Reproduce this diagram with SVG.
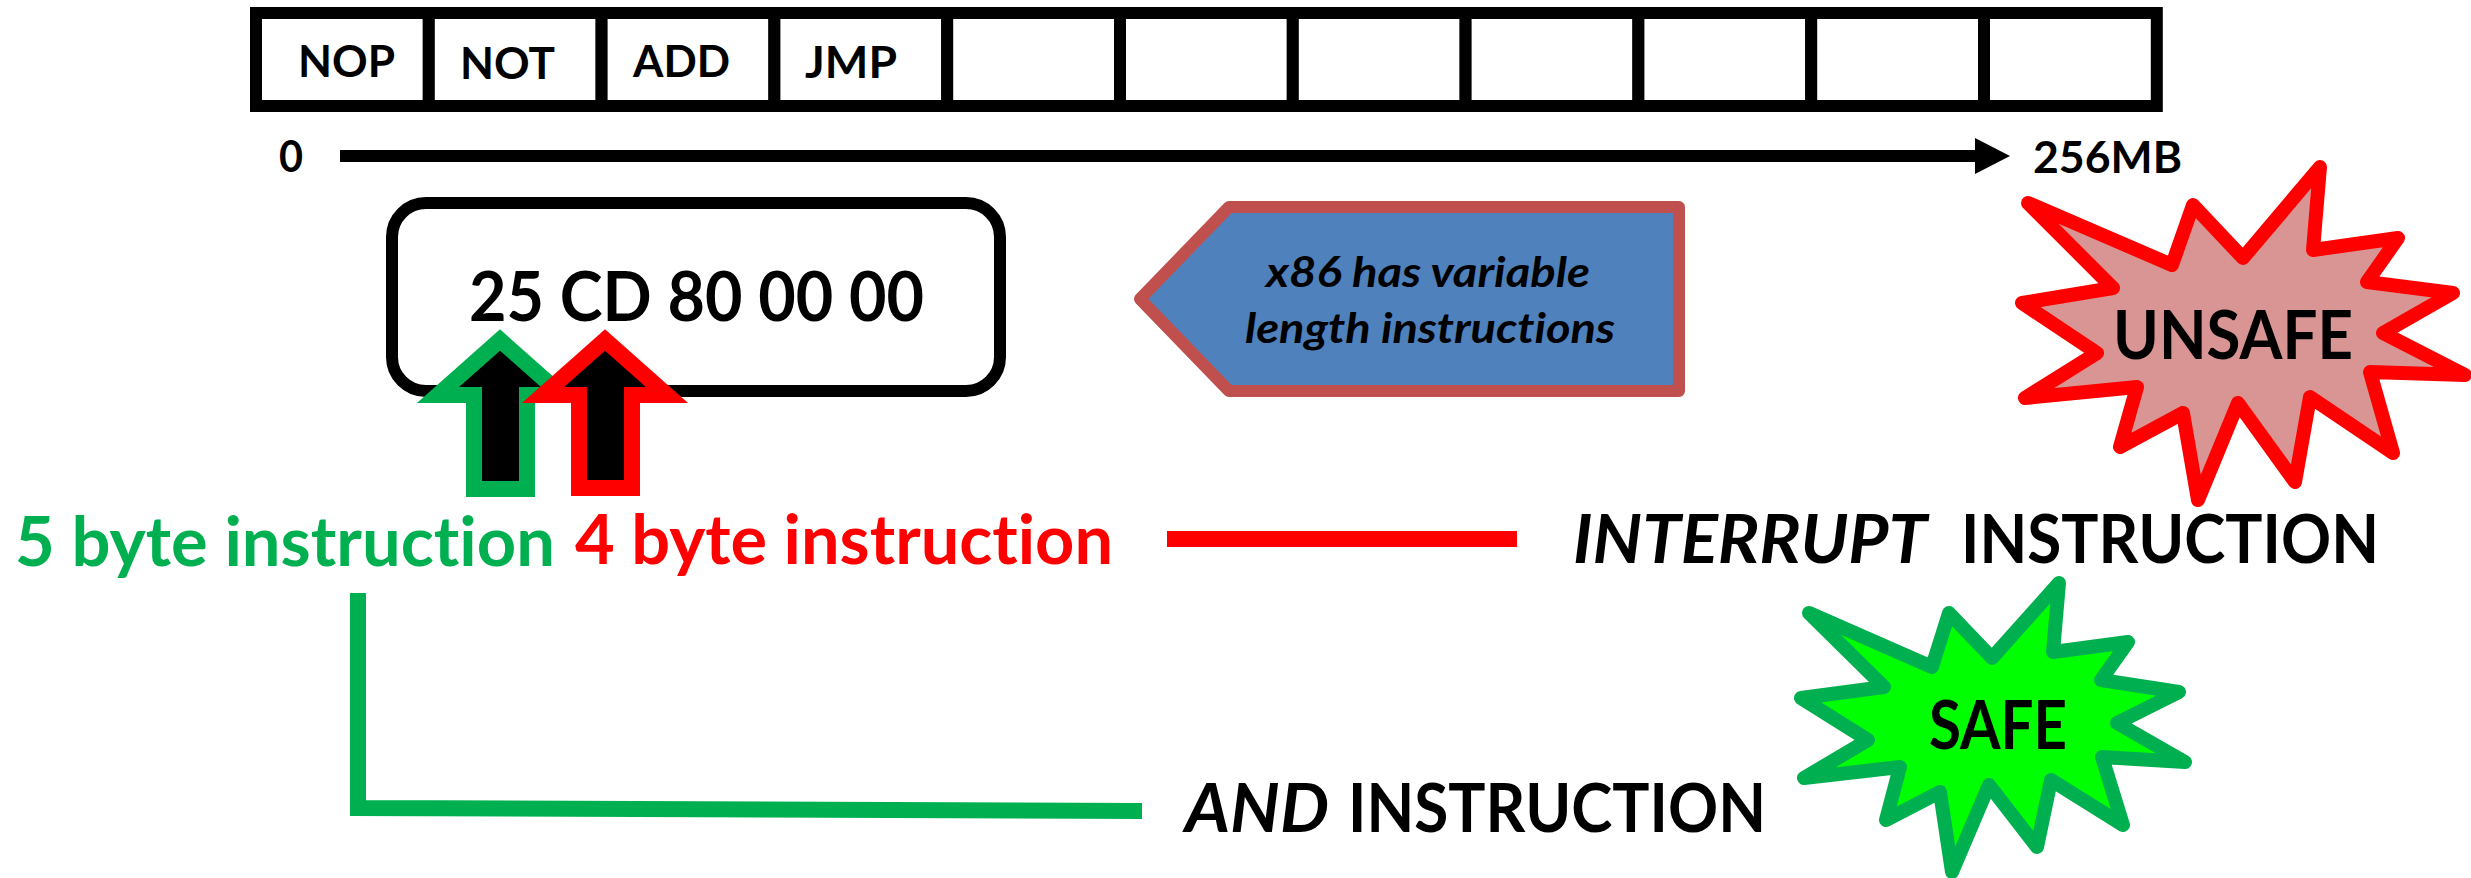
<svg xmlns="http://www.w3.org/2000/svg" width="2471" height="878" viewBox="0 0 2471 878">
<style>
text{font-family:Lato,"Open Sans","Liberation Sans",sans-serif;font-weight:700;fill:#000;font-variant-ligatures:none;font-feature-settings:"liga" 0,"clig" 0,"dlig" 0}
.cell{fill:#fff;stroke:#000;stroke-width:12}
.lbl{font-size:44px}
.big{font-size:66px}
.mid{font-size:68px}
.it{font-style:italic}
.blk{stroke-linejoin:miter;stroke-width:16;fill:#000}
.star{stroke-width:14;stroke-linejoin:round}
</style>
<defs>
<marker id="ah" markerUnits="userSpaceOnUse" markerWidth="36" markerHeight="36" refX="0" refY="18" orient="auto">
<path d="M0,0 L35,18 L0,36 z" fill="#000"/>
</marker>
</defs>
<rect width="2471" height="878" fill="#fff"/>

<g id="connectors">
<line x1="340" y1="156" x2="1975" y2="156" stroke="#000" stroke-width="12" marker-end="url(#ah)"/>
<line x1="1167" y1="539" x2="1517" y2="539" stroke="#FF0000" stroke-width="16"/>
<path d="M358,593 L358,808 L1142,811" fill="none" stroke="#00B050" stroke-width="16" stroke-linejoin="miter"/>
</g>

<g id="memory">
<g id="cell-nop"><rect class="cell" x="256" y="13" width="172.8" height="93"/><text class="lbl" x="298" y="77" textLength="97" lengthAdjust="spacingAndGlyphs">NOP</text></g>
<g id="cell-not"><rect class="cell" x="428.8" y="13" width="172.8" height="93"/><text class="lbl" x="460" y="79" textLength="95" lengthAdjust="spacingAndGlyphs">NOT</text></g>
<g id="cell-add"><rect class="cell" x="601.6" y="13" width="172.8" height="93"/><text class="lbl" x="633" y="77" textLength="97" lengthAdjust="spacingAndGlyphs">ADD</text></g>
<g id="cell-jmp"><rect class="cell" x="774.4" y="13" width="172.8" height="93"/><text class="lbl" x="805" y="78" textLength="92" lengthAdjust="spacingAndGlyphs">JMP</text></g>
<g id="cell-5"><rect class="cell" x="947.2" y="13" width="172.8" height="93"/></g>
<g id="cell-6"><rect class="cell" x="1120" y="13" width="172.8" height="93"/></g>
<g id="cell-7"><rect class="cell" x="1292.8" y="13" width="172.8" height="93"/></g>
<g id="cell-8"><rect class="cell" x="1465.6" y="13" width="172.8" height="93"/></g>
<g id="cell-9"><rect class="cell" x="1638.4" y="13" width="172.8" height="93"/></g>
<g id="cell-10"><rect class="cell" x="1811.2" y="13" width="172.8" height="93"/></g>
<g id="cell-11"><rect class="cell" x="1984" y="13" width="172.8" height="93"/></g>
</g>

<g id="axis-start"><text class="lbl" x="279" y="172" textLength="24" lengthAdjust="spacingAndGlyphs">0</text></g>
<g id="axis-end"><text class="lbl" x="2033" y="173" textLength="149" lengthAdjust="spacingAndGlyphs">256MB</text></g>

<g id="bytes">
<rect x="392" y="203" width="608" height="188" rx="34" fill="#fff" stroke="#000" stroke-width="12"/>
<text class="mid" x="469" y="321" textLength="455" lengthAdjust="spacingAndGlyphs">25 CD 80 00 00</text>
</g>

<g id="arrow-green">
<polygon class="blk" stroke="#00B050" points="500,340 438,395 474,395 474,489 527,489 527,395 562,395"/>
</g>
<g id="arrow-red">
<polygon class="blk" stroke="#FF0000" points="605,340 543,395 579,395 579,488 632,488 632,395 667,395"/>
</g>

<g id="note">
<polygon points="1140,299 1229,207 1679,207 1679,391 1229,391" fill="#4F81BD" stroke="#C0504D" stroke-width="12" stroke-linejoin="round"/>
<text class="it" font-size="42" x="1266" y="287" textLength="324" lengthAdjust="spacingAndGlyphs">x86 has variable</text>
<text class="it" font-size="42" x="1245" y="343" textLength="370" lengthAdjust="spacingAndGlyphs">length instructions</text>
</g>

<g id="label-5byte"><text class="mid" style="fill:#00B050" x="15" y="566" textLength="540" lengthAdjust="spacingAndGlyphs">5 byte instruction</text></g>
<g id="label-4byte"><text class="mid" style="fill:#FF0000" x="575" y="564" textLength="538" lengthAdjust="spacingAndGlyphs">4 byte instruction</text></g>

<g id="label-interrupt">
<text class="big it" x="1573" y="563" textLength="354" lengthAdjust="spacingAndGlyphs">INTERRUPT</text>
<text class="big" x="1961" y="563" textLength="418" lengthAdjust="spacingAndGlyphs">INSTRUCTION</text>
</g>

<g id="label-and">
<text class="big it" x="1185" y="832" textLength="144" lengthAdjust="spacingAndGlyphs">AND</text>
<text class="big" x="1348" y="832" textLength="418" lengthAdjust="spacingAndGlyphs">INSTRUCTION</text>
</g>

<g id="unsafe">
<polygon class="star" fill="#D99594" stroke="#FF0000" points="2028,203 2172,265 2193,205 2243,258 2320,167 2313,250 2398,238 2367,282 2453,293 2383,333 2465,375 2370,372 2393,453 2310,397 2295,482 2238,403 2198,500 2183,413 2120,447 2137,387 2025,398 2097,353 2022,303 2113,288"/>
<text class="big" x="2113" y="359" textLength="240" lengthAdjust="spacingAndGlyphs">UNSAFE</text>
</g>

<g id="safe">
<polygon class="star" fill="#00FF00" stroke="#00B050" points="1809,613 1932,667 1949,613 1992,658 2059,583 2053,652 2128,642 2101,680 2179,692 2117,723 2185,762 2102,757 2123,825 2051,780 2037,847 1989,785 1952,872 1940,792 1886,820 1900,767 1804,778 1868,740 1801,698 1884,687"/>
<text class="big" x="1929" y="749" textLength="138" lengthAdjust="spacingAndGlyphs">SAFE</text>
</g>
</svg>
